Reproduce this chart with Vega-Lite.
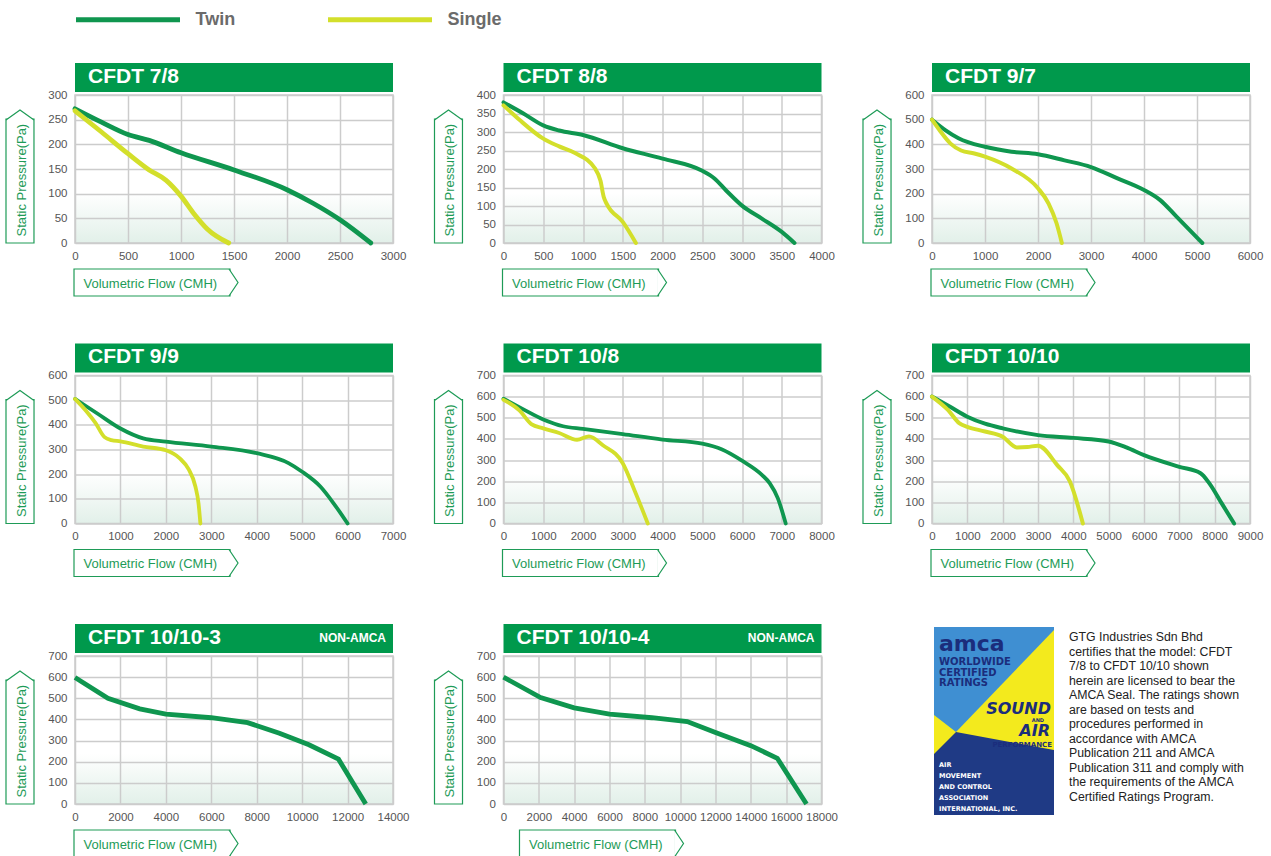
{
  "$schema": "https://vega.github.io/schema/vega-lite/v6.json",
  "background": "white",
  "padding": {"left": 2, "top": -35, "right": 5, "bottom": 5},
  "columns": 3,
  "spacing": {"row": 43.5, "column": 20.5},
  "resolve": {"scale": {"color": "shared"}},
  "datasets": {
    "p1": [
      {"series": "Twin", "flow": 0, "pressure": 272}, {"series": "Twin", "flow": 250, "pressure": 245}, {"series": "Twin", "flow": 500, "pressure": 220}, {"series": "Twin", "flow": 700, "pressure": 208}, {"series": "Twin", "flow": 1000, "pressure": 183}, {"series": "Twin", "flow": 1500, "pressure": 148}, {"series": "Twin", "flow": 2000, "pressure": 108}, {"series": "Twin", "flow": 2250, "pressure": 80}, {"series": "Twin", "flow": 2500, "pressure": 47}, {"series": "Twin", "flow": 2790, "pressure": 0},
      {"series": "Single", "flow": 0, "pressure": 268}, {"series": "Single", "flow": 250, "pressure": 225}, {"series": "Single", "flow": 500, "pressure": 181}, {"series": "Single", "flow": 700, "pressure": 148}, {"series": "Single", "flow": 860, "pressure": 127}, {"series": "Single", "flow": 1000, "pressure": 95}, {"series": "Single", "flow": 1120, "pressure": 60}, {"series": "Single", "flow": 1250, "pressure": 28}, {"series": "Single", "flow": 1450, "pressure": 0}
    ],
    "p2": [
      {"series": "Twin", "flow": 0, "pressure": 380}, {"series": "Twin", "flow": 250, "pressure": 350}, {"series": "Twin", "flow": 500, "pressure": 318}, {"series": "Twin", "flow": 700, "pressure": 304}, {"series": "Twin", "flow": 1000, "pressure": 292}, {"series": "Twin", "flow": 1500, "pressure": 256}, {"series": "Twin", "flow": 2000, "pressure": 228}, {"series": "Twin", "flow": 2500, "pressure": 195}, {"series": "Twin", "flow": 2650, "pressure": 175}, {"series": "Twin", "flow": 2800, "pressure": 142}, {"series": "Twin", "flow": 3000, "pressure": 101}, {"series": "Twin", "flow": 3250, "pressure": 66}, {"series": "Twin", "flow": 3500, "pressure": 30}, {"series": "Twin", "flow": 3660, "pressure": 0},
      {"series": "Single", "flow": 0, "pressure": 372}, {"series": "Single", "flow": 200, "pressure": 333}, {"series": "Single", "flow": 500, "pressure": 282}, {"series": "Single", "flow": 700, "pressure": 261}, {"series": "Single", "flow": 900, "pressure": 243}, {"series": "Single", "flow": 1150, "pressure": 202}, {"series": "Single", "flow": 1220, "pressure": 168}, {"series": "Single", "flow": 1260, "pressure": 125}, {"series": "Single", "flow": 1300, "pressure": 105}, {"series": "Single", "flow": 1500, "pressure": 57}, {"series": "Single", "flow": 1665, "pressure": 0}
    ],
    "p3": [
      {"series": "Twin", "flow": 0, "pressure": 500}, {"series": "Twin", "flow": 250, "pressure": 458}, {"series": "Twin", "flow": 500, "pressure": 425}, {"series": "Twin", "flow": 1000, "pressure": 390}, {"series": "Twin", "flow": 1500, "pressure": 370}, {"series": "Twin", "flow": 2000, "pressure": 360}, {"series": "Twin", "flow": 2500, "pressure": 335}, {"series": "Twin", "flow": 3000, "pressure": 308}, {"series": "Twin", "flow": 3500, "pressure": 262}, {"series": "Twin", "flow": 4000, "pressure": 215}, {"series": "Twin", "flow": 4300, "pressure": 175}, {"series": "Twin", "flow": 4600, "pressure": 110}, {"series": "Twin", "flow": 5100, "pressure": 0},
      {"series": "Single", "flow": 0, "pressure": 500}, {"series": "Single", "flow": 150, "pressure": 455}, {"series": "Single", "flow": 350, "pressure": 403}, {"series": "Single", "flow": 550, "pressure": 375}, {"series": "Single", "flow": 800, "pressure": 363}, {"series": "Single", "flow": 1000, "pressure": 350}, {"series": "Single", "flow": 1500, "pressure": 302}, {"series": "Single", "flow": 2000, "pressure": 222}, {"series": "Single", "flow": 2200, "pressure": 160}, {"series": "Single", "flow": 2350, "pressure": 80}, {"series": "Single", "flow": 2450, "pressure": 0}
    ],
    "p4": [
      {"series": "Twin", "flow": 0, "pressure": 505}, {"series": "Twin", "flow": 500, "pressure": 445}, {"series": "Twin", "flow": 1000, "pressure": 385}, {"series": "Twin", "flow": 1500, "pressure": 345}, {"series": "Twin", "flow": 2000, "pressure": 332}, {"series": "Twin", "flow": 3000, "pressure": 312}, {"series": "Twin", "flow": 4000, "pressure": 285}, {"series": "Twin", "flow": 4700, "pressure": 245}, {"series": "Twin", "flow": 5000, "pressure": 210}, {"series": "Twin", "flow": 5400, "pressure": 150}, {"series": "Twin", "flow": 5700, "pressure": 80}, {"series": "Twin", "flow": 6000, "pressure": 0},
      {"series": "Single", "flow": 0, "pressure": 505}, {"series": "Single", "flow": 250, "pressure": 455}, {"series": "Single", "flow": 450, "pressure": 408}, {"series": "Single", "flow": 650, "pressure": 350}, {"series": "Single", "flow": 800, "pressure": 338}, {"series": "Single", "flow": 1000, "pressure": 333}, {"series": "Single", "flow": 1500, "pressure": 312}, {"series": "Single", "flow": 2000, "pressure": 297}, {"series": "Single", "flow": 2300, "pressure": 265}, {"series": "Single", "flow": 2500, "pressure": 220}, {"series": "Single", "flow": 2650, "pressure": 150}, {"series": "Single", "flow": 2720, "pressure": 80}, {"series": "Single", "flow": 2760, "pressure": 0}
    ],
    "p5": [
      {"series": "Twin", "flow": 0, "pressure": 590}, {"series": "Twin", "flow": 500, "pressure": 540}, {"series": "Twin", "flow": 1000, "pressure": 492}, {"series": "Twin", "flow": 1500, "pressure": 460}, {"series": "Twin", "flow": 2000, "pressure": 448}, {"series": "Twin", "flow": 3000, "pressure": 423}, {"series": "Twin", "flow": 4000, "pressure": 397}, {"series": "Twin", "flow": 5000, "pressure": 378}, {"series": "Twin", "flow": 5500, "pressure": 350}, {"series": "Twin", "flow": 6000, "pressure": 297}, {"series": "Twin", "flow": 6500, "pressure": 230}, {"series": "Twin", "flow": 6700, "pressure": 190}, {"series": "Twin", "flow": 6900, "pressure": 120}, {"series": "Twin", "flow": 7100, "pressure": 0},
      {"series": "Single", "flow": 0, "pressure": 585}, {"series": "Single", "flow": 400, "pressure": 535}, {"series": "Single", "flow": 700, "pressure": 470}, {"series": "Single", "flow": 1000, "pressure": 450}, {"series": "Single", "flow": 1400, "pressure": 428}, {"series": "Single", "flow": 1850, "pressure": 396}, {"series": "Single", "flow": 2150, "pressure": 412}, {"series": "Single", "flow": 2500, "pressure": 370}, {"series": "Single", "flow": 3000, "pressure": 285}, {"series": "Single", "flow": 3300, "pressure": 155}, {"series": "Single", "flow": 3630, "pressure": 0}
    ],
    "p6": [
      {"series": "Twin", "flow": 0, "pressure": 600}, {"series": "Twin", "flow": 500, "pressure": 553}, {"series": "Twin", "flow": 1000, "pressure": 505}, {"series": "Twin", "flow": 1500, "pressure": 472}, {"series": "Twin", "flow": 2000, "pressure": 450}, {"series": "Twin", "flow": 3000, "pressure": 418}, {"series": "Twin", "flow": 4000, "pressure": 405}, {"series": "Twin", "flow": 5000, "pressure": 388}, {"series": "Twin", "flow": 5500, "pressure": 360}, {"series": "Twin", "flow": 6000, "pressure": 323}, {"series": "Twin", "flow": 7000, "pressure": 268}, {"series": "Twin", "flow": 7600, "pressure": 238}, {"series": "Twin", "flow": 7850, "pressure": 190}, {"series": "Twin", "flow": 8200, "pressure": 95}, {"series": "Twin", "flow": 8550, "pressure": 0},
      {"series": "Single", "flow": 0, "pressure": 600}, {"series": "Single", "flow": 450, "pressure": 537}, {"series": "Single", "flow": 780, "pressure": 473}, {"series": "Single", "flow": 1000, "pressure": 457}, {"series": "Single", "flow": 1500, "pressure": 435}, {"series": "Single", "flow": 2000, "pressure": 410}, {"series": "Single", "flow": 2400, "pressure": 360}, {"series": "Single", "flow": 2700, "pressure": 362}, {"series": "Single", "flow": 3000, "pressure": 368}, {"series": "Single", "flow": 3550, "pressure": 275}, {"series": "Single", "flow": 3900, "pressure": 200}, {"series": "Single", "flow": 4270, "pressure": 0}
    ],
    "p7": [
      {"series": "Twin", "flow": 0, "pressure": 598}, {"series": "Twin", "flow": 1450, "pressure": 500}, {"series": "Twin", "flow": 2850, "pressure": 450}, {"series": "Twin", "flow": 4000, "pressure": 425}, {"series": "Twin", "flow": 6000, "pressure": 408}, {"series": "Twin", "flow": 7600, "pressure": 385}, {"series": "Twin", "flow": 9000, "pressure": 335}, {"series": "Twin", "flow": 10300, "pressure": 280}, {"series": "Twin", "flow": 11600, "pressure": 212}, {"series": "Twin", "flow": 12800, "pressure": 0}
    ],
    "p8": [
      {"series": "Twin", "flow": 0, "pressure": 600}, {"series": "Twin", "flow": 2100, "pressure": 503}, {"series": "Twin", "flow": 4000, "pressure": 455}, {"series": "Twin", "flow": 6000, "pressure": 425}, {"series": "Twin", "flow": 8400, "pressure": 408}, {"series": "Twin", "flow": 10400, "pressure": 390}, {"series": "Twin", "flow": 12000, "pressure": 338}, {"series": "Twin", "flow": 14000, "pressure": 276}, {"series": "Twin", "flow": 15500, "pressure": 216}, {"series": "Twin", "flow": 17150, "pressure": 0}
    ]
  },
  "concat": [
    {"vconcat": [
      {"width": 318, "height": 29, "view": {"fill": "#00994C", "stroke": null},
       "data": {"values": [{"name": "CFDT 7/8"}]},
       "mark": {"type": "text", "align": "left", "baseline": "middle", "dx": 13, "dy": -1, "fontSize": 21, "fontWeight": "bold", "color": "white", "font": "Liberation Sans"},
       "encoding": {"x": {"datum": 0, "type": "quantitative", "scale": {"domain": [0, 1]}, "axis": null}, "y": {"datum": 0.5, "type": "quantitative", "scale": {"domain": [0, 1]}, "axis": null}, "text": {"field": "name"}}},
      {"width": 318, "height": 148,
       "view": {"stroke": "#cccccc", "strokeWidth": 1.5, "fill": {"gradient": "linear", "x1": 0, "y1": 1, "x2": 0, "y2": 0, "stops": [{"offset": 0, "color": "#e2f0e9"}, {"offset": 0.34, "color": "#ffffff"}, {"offset": 1, "color": "#ffffff"}]}},
       "data": {"name": "p1"},
       "layer": [
         {"mark": {"type": "line", "interpolate": "monotone", "strokeWidth": 4.8, "strokeCap": "round"},
          "encoding": {
            "x": {"field": "flow", "type": "quantitative", "scale": {"domain": [0, 3000]}, "axis": {"title": "Volumetric Flow (CMH)", "values": [0, 500, 1000, 1500, 2000, 2500, 3000], "format": "d"}},
            "y": {"field": "pressure", "type": "quantitative", "scale": {"domain": [0, 300]}, "axis": {"title": "Static Pressure(Pa)", "values": [0, 50, 100, 150, 200, 250, 300], "format": "d"}},
            "color": {"field": "series", "type": "nominal", "scale": {"domain": ["Twin", "Single"], "range": ["#0f964f", "#d3df2b"]}, "legend": {"title": null}}}},
         {"data": {"values": [{}]}, "mark": {"type": "rect", "filled": false, "color": "#1e9b57", "strokeWidth": 1.2},
          "encoding": {"x": {"datum": -9.4, "type": "quantitative", "scale": {"domain": [0, 3000]}, "axis": {"title": "Volumetric Flow (CMH)", "values": [0, 500, 1000, 1500, 2000, 2500, 3000], "format": "d"}}, "x2": {"datum": 1462}, "y": {"datum": -52.7, "type": "quantitative", "scale": {"domain": [0, 300]}, "axis": {"title": "Static Pressure(Pa)", "values": [0, 50, 100, 150, 200, 250, 300], "format": "d"}}, "y2": {"datum": -107.4}}},
         {"data": {"values": [{}]}, "mark": {"type": "point", "shape": "M0,-1L0.667,0L0,1", "size": 729, "filled": true, "fill": "white", "stroke": "#1e9b57", "strokeWidth": 1.2, "opacity": 1},
          "encoding": {"x": {"datum": 1452.8, "type": "quantitative", "scale": {"domain": [0, 3000]}, "axis": {"title": "Volumetric Flow (CMH)", "values": [0, 500, 1000, 1500, 2000, 2500, 3000], "format": "d"}}, "y": {"datum": -80.1, "type": "quantitative", "scale": {"domain": [0, 300]}, "axis": {"title": "Static Pressure(Pa)", "values": [0, 50, 100, 150, 200, 250, 300], "format": "d"}}}},
         {"data": {"values": [{}]}, "mark": {"type": "rect", "filled": false, "color": "#1e9b57", "strokeWidth": 1.2},
          "encoding": {"x": {"datum": -651, "type": "quantitative", "scale": {"domain": [0, 3000]}, "axis": {"title": "Volumetric Flow (CMH)", "values": [0, 500, 1000, 1500, 2000, 2500, 3000], "format": "d"}}, "x2": {"datum": -387}, "y": {"datum": 0, "type": "quantitative", "scale": {"domain": [0, 300]}, "axis": {"title": "Static Pressure(Pa)", "values": [0, 50, 100, 150, 200, 250, 300], "format": "d"}}, "y2": {"datum": 251.3}}},
         {"data": {"values": [{}]}, "mark": {"type": "point", "shape": "M-1,0L0,-0.714L1,0", "size": 784, "filled": true, "fill": "white", "stroke": "#1e9b57", "strokeWidth": 1.2, "opacity": 1},
          "encoding": {"x": {"datum": -519, "type": "quantitative", "scale": {"domain": [0, 3000]}, "axis": {"title": "Volumetric Flow (CMH)", "values": [0, 500, 1000, 1500, 2000, 2500, 3000], "format": "d"}}, "y": {"datum": 249.3, "type": "quantitative", "scale": {"domain": [0, 300]}, "axis": {"title": "Static Pressure(Pa)", "values": [0, 50, 100, 150, 200, 250, 300], "format": "d"}}}}
       ]}
    ], "spacing": 3, "bounds": "flush"},
    {"vconcat": [
      {"width": 318, "height": 29, "view": {"fill": "#00994C", "stroke": null},
       "data": {"values": [{"name": "CFDT 8/8"}]},
       "mark": {"type": "text", "align": "left", "baseline": "middle", "dx": 13, "dy": -1, "fontSize": 21, "fontWeight": "bold", "color": "white", "font": "Liberation Sans"},
       "encoding": {"x": {"datum": 0, "type": "quantitative", "scale": {"domain": [0, 1]}, "axis": null}, "y": {"datum": 0.5, "type": "quantitative", "scale": {"domain": [0, 1]}, "axis": null}, "text": {"field": "name"}}},
      {"width": 318, "height": 148,
       "view": {"stroke": "#cccccc", "strokeWidth": 1.5, "fill": {"gradient": "linear", "x1": 0, "y1": 1, "x2": 0, "y2": 0, "stops": [{"offset": 0, "color": "#e2f0e9"}, {"offset": 0.34, "color": "#ffffff"}, {"offset": 1, "color": "#ffffff"}]}},
       "data": {"name": "p2"},
       "layer": [
         {"mark": {"type": "line", "interpolate": "monotone", "strokeWidth": 4, "strokeCap": "round"},
          "encoding": {
            "x": {"field": "flow", "type": "quantitative", "scale": {"domain": [0, 4000]}, "axis": {"title": "Volumetric Flow (CMH)", "values": [0, 500, 1000, 1500, 2000, 2500, 3000, 3500, 4000], "format": "d"}},
            "y": {"field": "pressure", "type": "quantitative", "scale": {"domain": [0, 400]}, "axis": {"title": "Static Pressure(Pa)", "values": [0, 50, 100, 150, 200, 250, 300, 350, 400], "format": "d"}},
            "color": {"field": "series", "type": "nominal", "scale": {"domain": ["Twin", "Single"], "range": ["#0f964f", "#d3df2b"]}, "legend": {"title": null}}}},
         {"data": {"values": [{}]}, "mark": {"type": "rect", "filled": false, "color": "#1e9b57", "strokeWidth": 1.2},
          "encoding": {"x": {"datum": -12.6, "type": "quantitative", "scale": {"domain": [0, 4000]}, "axis": {"title": "Volumetric Flow (CMH)", "values": [0, 500, 1000, 1500, 2000, 2500, 3000, 3500, 4000], "format": "d"}}, "x2": {"datum": 1950}, "y": {"datum": -70.3, "type": "quantitative", "scale": {"domain": [0, 400]}, "axis": {"title": "Static Pressure(Pa)", "values": [0, 50, 100, 150, 200, 250, 300, 350, 400], "format": "d"}}, "y2": {"datum": -143.2}}},
         {"data": {"values": [{}]}, "mark": {"type": "point", "shape": "M0,-1L0.667,0L0,1", "size": 729, "filled": true, "fill": "white", "stroke": "#1e9b57", "strokeWidth": 1.2, "opacity": 1},
          "encoding": {"x": {"datum": 1937, "type": "quantitative", "scale": {"domain": [0, 4000]}, "axis": {"title": "Volumetric Flow (CMH)", "values": [0, 500, 1000, 1500, 2000, 2500, 3000, 3500, 4000], "format": "d"}}, "y": {"datum": -106.8, "type": "quantitative", "scale": {"domain": [0, 400]}, "axis": {"title": "Static Pressure(Pa)", "values": [0, 50, 100, 150, 200, 250, 300, 350, 400], "format": "d"}}}},
         {"data": {"values": [{}]}, "mark": {"type": "rect", "filled": false, "color": "#1e9b57", "strokeWidth": 1.2},
          "encoding": {"x": {"datum": -868, "type": "quantitative", "scale": {"domain": [0, 4000]}, "axis": {"title": "Volumetric Flow (CMH)", "values": [0, 500, 1000, 1500, 2000, 2500, 3000, 3500, 4000], "format": "d"}}, "x2": {"datum": -516}, "y": {"datum": 0, "type": "quantitative", "scale": {"domain": [0, 400]}, "axis": {"title": "Static Pressure(Pa)", "values": [0, 50, 100, 150, 200, 250, 300, 350, 400], "format": "d"}}, "y2": {"datum": 335.1}}},
         {"data": {"values": [{}]}, "mark": {"type": "point", "shape": "M-1,0L0,-0.714L1,0", "size": 784, "filled": true, "fill": "white", "stroke": "#1e9b57", "strokeWidth": 1.2, "opacity": 1},
          "encoding": {"x": {"datum": -692, "type": "quantitative", "scale": {"domain": [0, 4000]}, "axis": {"title": "Volumetric Flow (CMH)", "values": [0, 500, 1000, 1500, 2000, 2500, 3000, 3500, 4000], "format": "d"}}, "y": {"datum": 332.4, "type": "quantitative", "scale": {"domain": [0, 400]}, "axis": {"title": "Static Pressure(Pa)", "values": [0, 50, 100, 150, 200, 250, 300, 350, 400], "format": "d"}}}}
       ]}
    ], "spacing": 3, "bounds": "flush"},
    {"vconcat": [
      {"width": 318, "height": 29, "view": {"fill": "#00994C", "stroke": null},
       "data": {"values": [{"name": "CFDT 9/7"}]},
       "mark": {"type": "text", "align": "left", "baseline": "middle", "dx": 13, "dy": -1, "fontSize": 21, "fontWeight": "bold", "color": "white", "font": "Liberation Sans"},
       "encoding": {"x": {"datum": 0, "type": "quantitative", "scale": {"domain": [0, 1]}, "axis": null}, "y": {"datum": 0.5, "type": "quantitative", "scale": {"domain": [0, 1]}, "axis": null}, "text": {"field": "name"}}},
      {"width": 318, "height": 148,
       "view": {"stroke": "#cccccc", "strokeWidth": 1.5, "fill": {"gradient": "linear", "x1": 0, "y1": 1, "x2": 0, "y2": 0, "stops": [{"offset": 0, "color": "#e2f0e9"}, {"offset": 0.34, "color": "#ffffff"}, {"offset": 1, "color": "#ffffff"}]}},
       "data": {"name": "p3"},
       "layer": [
         {"mark": {"type": "line", "interpolate": "monotone", "strokeWidth": 4, "strokeCap": "round"},
          "encoding": {
            "x": {"field": "flow", "type": "quantitative", "scale": {"domain": [0, 6000]}, "axis": {"title": "Volumetric Flow (CMH)", "values": [0, 1000, 2000, 3000, 4000, 5000, 6000], "format": "d"}},
            "y": {"field": "pressure", "type": "quantitative", "scale": {"domain": [0, 600]}, "axis": {"title": "Static Pressure(Pa)", "values": [0, 100, 200, 300, 400, 500, 600], "format": "d"}},
            "color": {"field": "series", "type": "nominal", "scale": {"domain": ["Twin", "Single"], "range": ["#0f964f", "#d3df2b"]}, "legend": {"title": null}}}},
         {"data": {"values": [{}]}, "mark": {"type": "rect", "filled": false, "color": "#1e9b57", "strokeWidth": 1.2},
          "encoding": {"x": {"datum": -18.9, "type": "quantitative", "scale": {"domain": [0, 6000]}, "axis": {"title": "Volumetric Flow (CMH)", "values": [0, 1000, 2000, 3000, 4000, 5000, 6000], "format": "d"}}, "x2": {"datum": 2924}, "y": {"datum": -105.4, "type": "quantitative", "scale": {"domain": [0, 600]}, "axis": {"title": "Static Pressure(Pa)", "values": [0, 100, 200, 300, 400, 500, 600], "format": "d"}}, "y2": {"datum": -214.9}}},
         {"data": {"values": [{}]}, "mark": {"type": "point", "shape": "M0,-1L0.667,0L0,1", "size": 729, "filled": true, "fill": "white", "stroke": "#1e9b57", "strokeWidth": 1.2, "opacity": 1},
          "encoding": {"x": {"datum": 2905.7, "type": "quantitative", "scale": {"domain": [0, 6000]}, "axis": {"title": "Volumetric Flow (CMH)", "values": [0, 1000, 2000, 3000, 4000, 5000, 6000], "format": "d"}}, "y": {"datum": -160.1, "type": "quantitative", "scale": {"domain": [0, 600]}, "axis": {"title": "Static Pressure(Pa)", "values": [0, 100, 200, 300, 400, 500, 600], "format": "d"}}}},
         {"data": {"values": [{}]}, "mark": {"type": "rect", "filled": false, "color": "#1e9b57", "strokeWidth": 1.2},
          "encoding": {"x": {"datum": -1302, "type": "quantitative", "scale": {"domain": [0, 6000]}, "axis": {"title": "Volumetric Flow (CMH)", "values": [0, 1000, 2000, 3000, 4000, 5000, 6000], "format": "d"}}, "x2": {"datum": -773}, "y": {"datum": 0, "type": "quantitative", "scale": {"domain": [0, 600]}, "axis": {"title": "Static Pressure(Pa)", "values": [0, 100, 200, 300, 400, 500, 600], "format": "d"}}, "y2": {"datum": 502.7}}},
         {"data": {"values": [{}]}, "mark": {"type": "point", "shape": "M-1,0L0,-0.714L1,0", "size": 784, "filled": true, "fill": "white", "stroke": "#1e9b57", "strokeWidth": 1.2, "opacity": 1},
          "encoding": {"x": {"datum": -1038, "type": "quantitative", "scale": {"domain": [0, 6000]}, "axis": {"title": "Volumetric Flow (CMH)", "values": [0, 1000, 2000, 3000, 4000, 5000, 6000], "format": "d"}}, "y": {"datum": 498.6, "type": "quantitative", "scale": {"domain": [0, 600]}, "axis": {"title": "Static Pressure(Pa)", "values": [0, 100, 200, 300, 400, 500, 600], "format": "d"}}}}
       ]}
    ], "spacing": 3, "bounds": "flush"},
    {"vconcat": [
      {"width": 318, "height": 29, "view": {"fill": "#00994C", "stroke": null},
       "data": {"values": [{"name": "CFDT 9/9"}]},
       "mark": {"type": "text", "align": "left", "baseline": "middle", "dx": 13, "dy": -1, "fontSize": 21, "fontWeight": "bold", "color": "white", "font": "Liberation Sans"},
       "encoding": {"x": {"datum": 0, "type": "quantitative", "scale": {"domain": [0, 1]}, "axis": null}, "y": {"datum": 0.5, "type": "quantitative", "scale": {"domain": [0, 1]}, "axis": null}, "text": {"field": "name"}}},
      {"width": 318, "height": 148,
       "view": {"stroke": "#cccccc", "strokeWidth": 1.5, "fill": {"gradient": "linear", "x1": 0, "y1": 1, "x2": 0, "y2": 0, "stops": [{"offset": 0, "color": "#e2f0e9"}, {"offset": 0.34, "color": "#ffffff"}, {"offset": 1, "color": "#ffffff"}]}},
       "data": {"name": "p4"},
       "layer": [
         {"mark": {"type": "line", "interpolate": "monotone", "strokeWidth": 3.8, "strokeCap": "round"},
          "encoding": {
            "x": {"field": "flow", "type": "quantitative", "scale": {"domain": [0, 7000]}, "axis": {"title": "Volumetric Flow (CMH)", "values": [0, 1000, 2000, 3000, 4000, 5000, 6000, 7000], "format": "d"}},
            "y": {"field": "pressure", "type": "quantitative", "scale": {"domain": [0, 600]}, "axis": {"title": "Static Pressure(Pa)", "values": [0, 100, 200, 300, 400, 500, 600], "format": "d"}},
            "color": {"field": "series", "type": "nominal", "scale": {"domain": ["Twin", "Single"], "range": ["#0f964f", "#d3df2b"]}, "legend": {"title": null}}}},
         {"data": {"values": [{}]}, "mark": {"type": "rect", "filled": false, "color": "#1e9b57", "strokeWidth": 1.2},
          "encoding": {"x": {"datum": -22, "type": "quantitative", "scale": {"domain": [0, 7000]}, "axis": {"title": "Volumetric Flow (CMH)", "values": [0, 1000, 2000, 3000, 4000, 5000, 6000, 7000], "format": "d"}}, "x2": {"datum": 3412}, "y": {"datum": -105.4, "type": "quantitative", "scale": {"domain": [0, 600]}, "axis": {"title": "Static Pressure(Pa)", "values": [0, 100, 200, 300, 400, 500, 600], "format": "d"}}, "y2": {"datum": -214.9}}},
         {"data": {"values": [{}]}, "mark": {"type": "point", "shape": "M0,-1L0.667,0L0,1", "size": 729, "filled": true, "fill": "white", "stroke": "#1e9b57", "strokeWidth": 1.2, "opacity": 1},
          "encoding": {"x": {"datum": 3390, "type": "quantitative", "scale": {"domain": [0, 7000]}, "axis": {"title": "Volumetric Flow (CMH)", "values": [0, 1000, 2000, 3000, 4000, 5000, 6000, 7000], "format": "d"}}, "y": {"datum": -160.1, "type": "quantitative", "scale": {"domain": [0, 600]}, "axis": {"title": "Static Pressure(Pa)", "values": [0, 100, 200, 300, 400, 500, 600], "format": "d"}}}},
         {"data": {"values": [{}]}, "mark": {"type": "rect", "filled": false, "color": "#1e9b57", "strokeWidth": 1.2},
          "encoding": {"x": {"datum": -1519, "type": "quantitative", "scale": {"domain": [0, 7000]}, "axis": {"title": "Volumetric Flow (CMH)", "values": [0, 1000, 2000, 3000, 4000, 5000, 6000, 7000], "format": "d"}}, "x2": {"datum": -902}, "y": {"datum": 0, "type": "quantitative", "scale": {"domain": [0, 600]}, "axis": {"title": "Static Pressure(Pa)", "values": [0, 100, 200, 300, 400, 500, 600], "format": "d"}}, "y2": {"datum": 502.7}}},
         {"data": {"values": [{}]}, "mark": {"type": "point", "shape": "M-1,0L0,-0.714L1,0", "size": 784, "filled": true, "fill": "white", "stroke": "#1e9b57", "strokeWidth": 1.2, "opacity": 1},
          "encoding": {"x": {"datum": -1211, "type": "quantitative", "scale": {"domain": [0, 7000]}, "axis": {"title": "Volumetric Flow (CMH)", "values": [0, 1000, 2000, 3000, 4000, 5000, 6000, 7000], "format": "d"}}, "y": {"datum": 498.6, "type": "quantitative", "scale": {"domain": [0, 600]}, "axis": {"title": "Static Pressure(Pa)", "values": [0, 100, 200, 300, 400, 500, 600], "format": "d"}}}}
       ]}
    ], "spacing": 3, "bounds": "flush"},
    {"vconcat": [
      {"width": 318, "height": 29, "view": {"fill": "#00994C", "stroke": null},
       "data": {"values": [{"name": "CFDT 10/8"}]},
       "mark": {"type": "text", "align": "left", "baseline": "middle", "dx": 13, "dy": -1, "fontSize": 21, "fontWeight": "bold", "color": "white", "font": "Liberation Sans"},
       "encoding": {"x": {"datum": 0, "type": "quantitative", "scale": {"domain": [0, 1]}, "axis": null}, "y": {"datum": 0.5, "type": "quantitative", "scale": {"domain": [0, 1]}, "axis": null}, "text": {"field": "name"}}},
      {"width": 318, "height": 148,
       "view": {"stroke": "#cccccc", "strokeWidth": 1.5, "fill": {"gradient": "linear", "x1": 0, "y1": 1, "x2": 0, "y2": 0, "stops": [{"offset": 0, "color": "#e2f0e9"}, {"offset": 0.34, "color": "#ffffff"}, {"offset": 1, "color": "#ffffff"}]}},
       "data": {"name": "p5"},
       "layer": [
         {"mark": {"type": "line", "interpolate": "monotone", "strokeWidth": 3.8, "strokeCap": "round"},
          "encoding": {
            "x": {"field": "flow", "type": "quantitative", "scale": {"domain": [0, 8000]}, "axis": {"title": "Volumetric Flow (CMH)", "values": [0, 1000, 2000, 3000, 4000, 5000, 6000, 7000, 8000], "format": "d"}},
            "y": {"field": "pressure", "type": "quantitative", "scale": {"domain": [0, 700]}, "axis": {"title": "Static Pressure(Pa)", "values": [0, 100, 200, 300, 400, 500, 600, 700], "format": "d"}},
            "color": {"field": "series", "type": "nominal", "scale": {"domain": ["Twin", "Single"], "range": ["#0f964f", "#d3df2b"]}, "legend": {"title": null}}}},
         {"data": {"values": [{}]}, "mark": {"type": "rect", "filled": false, "color": "#1e9b57", "strokeWidth": 1.2},
          "encoding": {"x": {"datum": -25.2, "type": "quantitative", "scale": {"domain": [0, 8000]}, "axis": {"title": "Volumetric Flow (CMH)", "values": [0, 1000, 2000, 3000, 4000, 5000, 6000, 7000, 8000], "format": "d"}}, "x2": {"datum": 3899}, "y": {"datum": -123, "type": "quantitative", "scale": {"domain": [0, 700]}, "axis": {"title": "Static Pressure(Pa)", "values": [0, 100, 200, 300, 400, 500, 600, 700], "format": "d"}}, "y2": {"datum": -250.7}}},
         {"data": {"values": [{}]}, "mark": {"type": "point", "shape": "M0,-1L0.667,0L0,1", "size": 729, "filled": true, "fill": "white", "stroke": "#1e9b57", "strokeWidth": 1.2, "opacity": 1},
          "encoding": {"x": {"datum": 3874, "type": "quantitative", "scale": {"domain": [0, 8000]}, "axis": {"title": "Volumetric Flow (CMH)", "values": [0, 1000, 2000, 3000, 4000, 5000, 6000, 7000, 8000], "format": "d"}}, "y": {"datum": -186.8, "type": "quantitative", "scale": {"domain": [0, 700]}, "axis": {"title": "Static Pressure(Pa)", "values": [0, 100, 200, 300, 400, 500, 600, 700], "format": "d"}}}},
         {"data": {"values": [{}]}, "mark": {"type": "rect", "filled": false, "color": "#1e9b57", "strokeWidth": 1.2},
          "encoding": {"x": {"datum": -1736, "type": "quantitative", "scale": {"domain": [0, 8000]}, "axis": {"title": "Volumetric Flow (CMH)", "values": [0, 1000, 2000, 3000, 4000, 5000, 6000, 7000, 8000], "format": "d"}}, "x2": {"datum": -1031}, "y": {"datum": 0, "type": "quantitative", "scale": {"domain": [0, 700]}, "axis": {"title": "Static Pressure(Pa)", "values": [0, 100, 200, 300, 400, 500, 600, 700], "format": "d"}}, "y2": {"datum": 586.5}}},
         {"data": {"values": [{}]}, "mark": {"type": "point", "shape": "M-1,0L0,-0.714L1,0", "size": 784, "filled": true, "fill": "white", "stroke": "#1e9b57", "strokeWidth": 1.2, "opacity": 1},
          "encoding": {"x": {"datum": -1384, "type": "quantitative", "scale": {"domain": [0, 8000]}, "axis": {"title": "Volumetric Flow (CMH)", "values": [0, 1000, 2000, 3000, 4000, 5000, 6000, 7000, 8000], "format": "d"}}, "y": {"datum": 581.8, "type": "quantitative", "scale": {"domain": [0, 700]}, "axis": {"title": "Static Pressure(Pa)", "values": [0, 100, 200, 300, 400, 500, 600, 700], "format": "d"}}}}
       ]}
    ], "spacing": 3, "bounds": "flush"},
    {"vconcat": [
      {"width": 318, "height": 29, "view": {"fill": "#00994C", "stroke": null},
       "data": {"values": [{"name": "CFDT 10/10"}]},
       "mark": {"type": "text", "align": "left", "baseline": "middle", "dx": 13, "dy": -1, "fontSize": 21, "fontWeight": "bold", "color": "white", "font": "Liberation Sans"},
       "encoding": {"x": {"datum": 0, "type": "quantitative", "scale": {"domain": [0, 1]}, "axis": null}, "y": {"datum": 0.5, "type": "quantitative", "scale": {"domain": [0, 1]}, "axis": null}, "text": {"field": "name"}}},
      {"width": 318, "height": 148,
       "view": {"stroke": "#cccccc", "strokeWidth": 1.5, "fill": {"gradient": "linear", "x1": 0, "y1": 1, "x2": 0, "y2": 0, "stops": [{"offset": 0, "color": "#e2f0e9"}, {"offset": 0.34, "color": "#ffffff"}, {"offset": 1, "color": "#ffffff"}]}},
       "data": {"name": "p6"},
       "layer": [
         {"mark": {"type": "line", "interpolate": "monotone", "strokeWidth": 4, "strokeCap": "round"},
          "encoding": {
            "x": {"field": "flow", "type": "quantitative", "scale": {"domain": [0, 9000]}, "axis": {"title": "Volumetric Flow (CMH)", "values": [0, 1000, 2000, 3000, 4000, 5000, 6000, 7000, 8000, 9000], "format": "d"}},
            "y": {"field": "pressure", "type": "quantitative", "scale": {"domain": [0, 700]}, "axis": {"title": "Static Pressure(Pa)", "values": [0, 100, 200, 300, 400, 500, 600, 700], "format": "d"}},
            "color": {"field": "series", "type": "nominal", "scale": {"domain": ["Twin", "Single"], "range": ["#0f964f", "#d3df2b"]}, "legend": {"title": null}}}},
         {"data": {"values": [{}]}, "mark": {"type": "rect", "filled": false, "color": "#1e9b57", "strokeWidth": 1.2},
          "encoding": {"x": {"datum": -28.3, "type": "quantitative", "scale": {"domain": [0, 9000]}, "axis": {"title": "Volumetric Flow (CMH)", "values": [0, 1000, 2000, 3000, 4000, 5000, 6000, 7000, 8000, 9000], "format": "d"}}, "x2": {"datum": 4387}, "y": {"datum": -123, "type": "quantitative", "scale": {"domain": [0, 700]}, "axis": {"title": "Static Pressure(Pa)", "values": [0, 100, 200, 300, 400, 500, 600, 700], "format": "d"}}, "y2": {"datum": -250.7}}},
         {"data": {"values": [{}]}, "mark": {"type": "point", "shape": "M0,-1L0.667,0L0,1", "size": 729, "filled": true, "fill": "white", "stroke": "#1e9b57", "strokeWidth": 1.2, "opacity": 1},
          "encoding": {"x": {"datum": 4358.5, "type": "quantitative", "scale": {"domain": [0, 9000]}, "axis": {"title": "Volumetric Flow (CMH)", "values": [0, 1000, 2000, 3000, 4000, 5000, 6000, 7000, 8000, 9000], "format": "d"}}, "y": {"datum": -186.8, "type": "quantitative", "scale": {"domain": [0, 700]}, "axis": {"title": "Static Pressure(Pa)", "values": [0, 100, 200, 300, 400, 500, 600, 700], "format": "d"}}}},
         {"data": {"values": [{}]}, "mark": {"type": "rect", "filled": false, "color": "#1e9b57", "strokeWidth": 1.2},
          "encoding": {"x": {"datum": -1953, "type": "quantitative", "scale": {"domain": [0, 9000]}, "axis": {"title": "Volumetric Flow (CMH)", "values": [0, 1000, 2000, 3000, 4000, 5000, 6000, 7000, 8000, 9000], "format": "d"}}, "x2": {"datum": -1160}, "y": {"datum": 0, "type": "quantitative", "scale": {"domain": [0, 700]}, "axis": {"title": "Static Pressure(Pa)", "values": [0, 100, 200, 300, 400, 500, 600, 700], "format": "d"}}, "y2": {"datum": 586.5}}},
         {"data": {"values": [{}]}, "mark": {"type": "point", "shape": "M-1,0L0,-0.714L1,0", "size": 784, "filled": true, "fill": "white", "stroke": "#1e9b57", "strokeWidth": 1.2, "opacity": 1},
          "encoding": {"x": {"datum": -1557, "type": "quantitative", "scale": {"domain": [0, 9000]}, "axis": {"title": "Volumetric Flow (CMH)", "values": [0, 1000, 2000, 3000, 4000, 5000, 6000, 7000, 8000, 9000], "format": "d"}}, "y": {"datum": 581.8, "type": "quantitative", "scale": {"domain": [0, 700]}, "axis": {"title": "Static Pressure(Pa)", "values": [0, 100, 200, 300, 400, 500, 600, 700], "format": "d"}}}}
       ]}
    ], "spacing": 3, "bounds": "flush"},
    {"vconcat": [
      {"width": 318, "height": 29, "view": {"fill": "#00994C", "stroke": null},
       "data": {"values": [{"name": "CFDT 10/10-3", "tag": "NON-AMCA"}]},
       "layer": [
         {"mark": {"type": "text", "align": "left", "baseline": "middle", "dx": 13, "dy": -1, "fontSize": 21, "fontWeight": "bold", "color": "white", "font": "Liberation Sans"},
          "encoding": {"x": {"datum": 0, "type": "quantitative", "scale": {"domain": [0, 1]}, "axis": null}, "y": {"datum": 0.5, "type": "quantitative", "scale": {"domain": [0, 1]}, "axis": null}, "text": {"field": "name"}}},
         {"mark": {"type": "text", "align": "right", "baseline": "middle", "dx": -7, "dy": -1, "fontSize": 12, "fontWeight": "bold", "color": "white", "font": "Liberation Sans"},
          "encoding": {"x": {"datum": 1, "type": "quantitative", "scale": {"domain": [0, 1]}, "axis": null}, "y": {"datum": 0.5, "type": "quantitative", "scale": {"domain": [0, 1]}, "axis": null}, "text": {"field": "tag"}}}
       ]},
      {"width": 318, "height": 148,
       "view": {"stroke": "#cccccc", "strokeWidth": 1.5, "fill": {"gradient": "linear", "x1": 0, "y1": 1, "x2": 0, "y2": 0, "stops": [{"offset": 0, "color": "#e2f0e9"}, {"offset": 0.34, "color": "#ffffff"}, {"offset": 1, "color": "#ffffff"}]}},
       "data": {"name": "p7"},
       "layer": [
         {"mark": {"type": "line", "interpolate": "linear", "strokeWidth": 4.8, "strokeCap": "butt"},
          "encoding": {
            "x": {"field": "flow", "type": "quantitative", "scale": {"domain": [0, 14000]}, "axis": {"title": "Volumetric Flow (CMH)", "values": [0, 2000, 4000, 6000, 8000, 10000, 12000, 14000], "format": "d"}},
            "y": {"field": "pressure", "type": "quantitative", "scale": {"domain": [0, 700]}, "axis": {"title": "Static Pressure(Pa)", "values": [0, 100, 200, 300, 400, 500, 600, 700], "format": "d"}},
            "color": {"field": "series", "type": "nominal", "scale": {"domain": ["Twin", "Single"], "range": ["#0f964f", "#d3df2b"]}, "legend": {"title": null}}}},
         {"data": {"values": [{}]}, "mark": {"type": "rect", "filled": false, "color": "#1e9b57", "strokeWidth": 1.2},
          "encoding": {"x": {"datum": -44, "type": "quantitative", "scale": {"domain": [0, 14000]}, "axis": {"title": "Volumetric Flow (CMH)", "values": [0, 2000, 4000, 6000, 8000, 10000, 12000, 14000], "format": "d"}}, "x2": {"datum": 6824}, "y": {"datum": -123, "type": "quantitative", "scale": {"domain": [0, 700]}, "axis": {"title": "Static Pressure(Pa)", "values": [0, 100, 200, 300, 400, 500, 600, 700], "format": "d"}}, "y2": {"datum": -250.7}}},
         {"data": {"values": [{}]}, "mark": {"type": "point", "shape": "M0,-1L0.667,0L0,1", "size": 729, "filled": true, "fill": "white", "stroke": "#1e9b57", "strokeWidth": 1.2, "opacity": 1},
          "encoding": {"x": {"datum": 6780, "type": "quantitative", "scale": {"domain": [0, 14000]}, "axis": {"title": "Volumetric Flow (CMH)", "values": [0, 2000, 4000, 6000, 8000, 10000, 12000, 14000], "format": "d"}}, "y": {"datum": -186.8, "type": "quantitative", "scale": {"domain": [0, 700]}, "axis": {"title": "Static Pressure(Pa)", "values": [0, 100, 200, 300, 400, 500, 600, 700], "format": "d"}}}},
         {"data": {"values": [{}]}, "mark": {"type": "rect", "filled": false, "color": "#1e9b57", "strokeWidth": 1.2},
          "encoding": {"x": {"datum": -3038, "type": "quantitative", "scale": {"domain": [0, 14000]}, "axis": {"title": "Volumetric Flow (CMH)", "values": [0, 2000, 4000, 6000, 8000, 10000, 12000, 14000], "format": "d"}}, "x2": {"datum": -1805}, "y": {"datum": 0, "type": "quantitative", "scale": {"domain": [0, 700]}, "axis": {"title": "Static Pressure(Pa)", "values": [0, 100, 200, 300, 400, 500, 600, 700], "format": "d"}}, "y2": {"datum": 586.5}}},
         {"data": {"values": [{}]}, "mark": {"type": "point", "shape": "M-1,0L0,-0.714L1,0", "size": 784, "filled": true, "fill": "white", "stroke": "#1e9b57", "strokeWidth": 1.2, "opacity": 1},
          "encoding": {"x": {"datum": -2422, "type": "quantitative", "scale": {"domain": [0, 14000]}, "axis": {"title": "Volumetric Flow (CMH)", "values": [0, 2000, 4000, 6000, 8000, 10000, 12000, 14000], "format": "d"}}, "y": {"datum": 581.8, "type": "quantitative", "scale": {"domain": [0, 700]}, "axis": {"title": "Static Pressure(Pa)", "values": [0, 100, 200, 300, 400, 500, 600, 700], "format": "d"}}}}
       ]}
    ], "spacing": 3, "bounds": "flush"},
    {"vconcat": [
      {"width": 318, "height": 29, "view": {"fill": "#00994C", "stroke": null},
       "data": {"values": [{"name": "CFDT 10/10-4", "tag": "NON-AMCA"}]},
       "layer": [
         {"mark": {"type": "text", "align": "left", "baseline": "middle", "dx": 13, "dy": -1, "fontSize": 21, "fontWeight": "bold", "color": "white", "font": "Liberation Sans"},
          "encoding": {"x": {"datum": 0, "type": "quantitative", "scale": {"domain": [0, 1]}, "axis": null}, "y": {"datum": 0.5, "type": "quantitative", "scale": {"domain": [0, 1]}, "axis": null}, "text": {"field": "name"}}},
         {"mark": {"type": "text", "align": "right", "baseline": "middle", "dx": -7, "dy": -1, "fontSize": 12, "fontWeight": "bold", "color": "white", "font": "Liberation Sans"},
          "encoding": {"x": {"datum": 1, "type": "quantitative", "scale": {"domain": [0, 1]}, "axis": null}, "y": {"datum": 0.5, "type": "quantitative", "scale": {"domain": [0, 1]}, "axis": null}, "text": {"field": "tag"}}}
       ]},
      {"width": 318, "height": 148,
       "view": {"stroke": "#cccccc", "strokeWidth": 1.5, "fill": {"gradient": "linear", "x1": 0, "y1": 1, "x2": 0, "y2": 0, "stops": [{"offset": 0, "color": "#e2f0e9"}, {"offset": 0.34, "color": "#ffffff"}, {"offset": 1, "color": "#ffffff"}]}},
       "data": {"name": "p8"},
       "layer": [
         {"mark": {"type": "line", "interpolate": "linear", "strokeWidth": 4.8, "strokeCap": "butt"},
          "encoding": {
            "x": {"field": "flow", "type": "quantitative", "scale": {"domain": [0, 18000]}, "axis": {"title": "Volumetric Flow (CMH)", "titleX": 25, "values": [0, 2000, 4000, 6000, 8000, 10000, 12000, 14000, 16000, 18000], "format": "d"}},
            "y": {"field": "pressure", "type": "quantitative", "scale": {"domain": [0, 700]}, "axis": {"title": "Static Pressure(Pa)", "values": [0, 100, 200, 300, 400, 500, 600, 700], "format": "d"}},
            "color": {"field": "series", "type": "nominal", "scale": {"domain": ["Twin", "Single"], "range": ["#0f964f", "#d3df2b"]}, "legend": {"title": null}}}},
         {"data": {"values": [{}]}, "mark": {"type": "rect", "filled": false, "color": "#1e9b57", "strokeWidth": 1.2},
          "encoding": {"x": {"datum": 905, "type": "quantitative", "scale": {"domain": [0, 18000]}, "axis": {"title": "Volumetric Flow (CMH)", "titleX": 25, "values": [0, 2000, 4000, 6000, 8000, 10000, 12000, 14000, 16000, 18000], "format": "d"}}, "x2": {"datum": 9736}, "y": {"datum": -123, "type": "quantitative", "scale": {"domain": [0, 700]}, "axis": {"title": "Static Pressure(Pa)", "values": [0, 100, 200, 300, 400, 500, 600, 700], "format": "d"}}, "y2": {"datum": -250.7}}},
         {"data": {"values": [{}]}, "mark": {"type": "point", "shape": "M0,-1L0.667,0L0,1", "size": 729, "filled": true, "fill": "white", "stroke": "#1e9b57", "strokeWidth": 1.2, "opacity": 1},
          "encoding": {"x": {"datum": 9679, "type": "quantitative", "scale": {"domain": [0, 18000]}, "axis": {"title": "Volumetric Flow (CMH)", "titleX": 25, "values": [0, 2000, 4000, 6000, 8000, 10000, 12000, 14000, 16000, 18000], "format": "d"}}, "y": {"datum": -186.8, "type": "quantitative", "scale": {"domain": [0, 700]}, "axis": {"title": "Static Pressure(Pa)", "values": [0, 100, 200, 300, 400, 500, 600, 700], "format": "d"}}}},
         {"data": {"values": [{}]}, "mark": {"type": "rect", "filled": false, "color": "#1e9b57", "strokeWidth": 1.2},
          "encoding": {"x": {"datum": -3906, "type": "quantitative", "scale": {"domain": [0, 18000]}, "axis": {"title": "Volumetric Flow (CMH)", "titleX": 25, "values": [0, 2000, 4000, 6000, 8000, 10000, 12000, 14000, 16000, 18000], "format": "d"}}, "x2": {"datum": -2320}, "y": {"datum": 0, "type": "quantitative", "scale": {"domain": [0, 700]}, "axis": {"title": "Static Pressure(Pa)", "values": [0, 100, 200, 300, 400, 500, 600, 700], "format": "d"}}, "y2": {"datum": 586.5}}},
         {"data": {"values": [{}]}, "mark": {"type": "point", "shape": "M-1,0L0,-0.714L1,0", "size": 784, "filled": true, "fill": "white", "stroke": "#1e9b57", "strokeWidth": 1.2, "opacity": 1},
          "encoding": {"x": {"datum": -3114, "type": "quantitative", "scale": {"domain": [0, 18000]}, "axis": {"title": "Volumetric Flow (CMH)", "titleX": 25, "values": [0, 2000, 4000, 6000, 8000, 10000, 12000, 14000, 16000, 18000], "format": "d"}}, "y": {"datum": 581.8, "type": "quantitative", "scale": {"domain": [0, 700]}, "axis": {"title": "Static Pressure(Pa)", "values": [0, 100, 200, 300, 400, 500, 600, 700], "format": "d"}}}}
       ]}
    ], "spacing": 3, "bounds": "flush"},
    {"width": 318, "height": 180, "view": {"stroke": null},
     "layer": [
       {"data": {"values": [{"part": "seal"}]},
        "mark": {"type": "rect", "color": "#f3ea1d"},
        "encoding": {"x": {"datum": 2, "type": "quantitative", "scale": {"domain": [0, 318], "nice": false, "zero": false}, "axis": null}, "x2": {"datum": 122}, "y": {"datum": 3, "type": "quantitative", "scale": {"domain": [0, 180], "reverse": true, "nice": false, "zero": false}, "axis": null}, "y2": {"datum": 191}}},
       {"data": {"values": [{"sx": 2, "top": 3, "bot": 91}, {"sx": 24, "top": 3, "bot": 108}, {"sx": 122, "top": 3, "bot": 6}]},
        "mark": {"type": "area", "color": "#3f8fd2", "interpolate": "linear"},
        "encoding": {"x": {"field": "sx", "type": "quantitative"}, "y": {"field": "top", "type": "quantitative"}, "y2": {"field": "bot"}}},
       {"data": {"values": [{"sx": 2, "top": 130, "bot": 191}, {"sx": 24, "top": 108, "bot": 191}, {"sx": 122, "top": 126, "bot": 191}]},
        "mark": {"type": "area", "color": "#1f3a85", "interpolate": "linear"},
        "encoding": {"x": {"field": "sx", "type": "quantitative"}, "y": {"field": "top", "type": "quantitative"}, "y2": {"field": "bot"}}},
       {"data": {"values": [{"t": "amca"}]},
        "mark": {"type": "text", "align": "left", "baseline": "alphabetic", "fontSize": 22, "fontWeight": "bold", "color": "#1b2d7c", "font": "DejaVu Sans"},
        "encoding": {"x": {"datum": 7, "type": "quantitative"}, "y": {"datum": 27, "type": "quantitative"}, "text": {"field": "t"}}},
       {"data": {"values": [{"t": "WORLDWIDE\nCERTIFIED\nRATINGS"}]},
        "mark": {"type": "text", "align": "left", "baseline": "alphabetic", "fontSize": 10, "fontWeight": "bold", "lineHeight": 10.5, "lineBreak": "\n", "color": "#1b2d7c", "font": "DejaVu Sans"},
        "encoding": {"x": {"datum": 7, "type": "quantitative"}, "y": {"datum": 41, "type": "quantitative"}, "text": {"field": "t"}}},
       {"data": {"values": [{"t": "SOUND"}]},
        "mark": {"type": "text", "align": "right", "baseline": "alphabetic", "fontSize": 16, "fontWeight": "bold", "fontStyle": "italic", "color": "#1b2d7c", "font": "DejaVu Sans"},
        "encoding": {"x": {"datum": 119, "type": "quantitative"}, "y": {"datum": 90, "type": "quantitative"}, "text": {"field": "t"}}},
       {"data": {"values": [{"t": "AND"}]},
        "mark": {"type": "text", "align": "right", "baseline": "alphabetic", "fontSize": 5, "fontWeight": "bold", "color": "#1b2d7c", "font": "DejaVu Sans"},
        "encoding": {"x": {"datum": 112, "type": "quantitative"}, "y": {"datum": 97.5, "type": "quantitative"}, "text": {"field": "t"}}},
       {"data": {"values": [{"t": "AIR"}]},
        "mark": {"type": "text", "align": "right", "baseline": "alphabetic", "fontSize": 16, "fontWeight": "bold", "fontStyle": "italic", "color": "#1b2d7c", "font": "DejaVu Sans"},
        "encoding": {"x": {"datum": 118, "type": "quantitative"}, "y": {"datum": 111.5, "type": "quantitative"}, "text": {"field": "t"}}},
       {"data": {"values": [{"t": "PERFORMANCE"}]},
        "mark": {"type": "text", "align": "right", "baseline": "alphabetic", "fontSize": 7, "fontWeight": "bold", "color": "#1b2d7c", "font": "DejaVu Sans"},
        "encoding": {"x": {"datum": 120, "type": "quantitative"}, "y": {"datum": 123, "type": "quantitative"}, "text": {"field": "t"}}},
       {"data": {"values": [{"t": "AIR\nMOVEMENT\nAND CONTROL\nASSOCIATION\nINTERNATIONAL, INC."}]},
        "mark": {"type": "text", "align": "left", "baseline": "alphabetic", "fontSize": 6.5, "fontWeight": "bold", "lineHeight": 11, "lineBreak": "\n", "color": "white", "font": "DejaVu Sans"},
        "encoding": {"x": {"datum": 7, "type": "quantitative"}, "y": {"datum": 143, "type": "quantitative"}, "text": {"field": "t"}}},
       {"data": {"values": [{"t": "GTG Industries Sdn Bhd\ncertifies that the model: CFDT\n7/8 to CFDT 10/10 shown\nherein are licensed to bear the\nAMCA Seal. The ratings shown\nare based on tests and\nprocedures performed in\naccordance with AMCA\nPublication 211 and AMCA\nPublication 311 and comply with\nthe requirements of the AMCA\nCertified Ratings Program."}]},
        "mark": {"type": "text", "align": "left", "baseline": "alphabetic", "fontSize": 12.3, "lineHeight": 14.5, "lineBreak": "\n", "color": "#222222", "font": "Liberation Sans"},
        "encoding": {"x": {"datum": 137, "type": "quantitative"}, "y": {"datum": 17, "type": "quantitative"}, "text": {"field": "t"}}}
     ]}
  ],
  "config": {
    "font": "Liberation Sans",
    "view": {"stroke": "#cccccc", "strokeWidth": 1.5},
    "axis": {"grid": true, "gridColor": "#cccccc", "gridWidth": 1.5, "domain": false, "ticks": false, "tickSize": 0, "labelFont": "Liberation Sans", "labelFontSize": 11.5, "labelColor": "#555555", "labelFlush": false, "labelOverlap": false, "titleFont": "Liberation Sans", "titleFontSize": 13, "titleFontWeight": "normal", "titleColor": "#1e9b57"},
    "axisX": {"labelPadding": 7, "titleX": 8, "titleY": 40, "titleAlign": "left", "titleBaseline": "middle", "titleAngle": 0},
    "axisY": {"labelPadding": 8, "titleX": -54, "titleY": 141, "titleAlign": "left", "titleBaseline": "middle", "titleAngle": -90},
    "legend": {"orient": "none", "legendX": -1.5, "legendY": -98, "direction": "horizontal", "symbolType": "stroke", "symbolSize": 10816, "symbolStrokeWidth": 5, "labelFont": "Liberation Sans", "labelFontWeight": "bold", "labelFontSize": 18, "labelColor": "#6b6b6b", "labelOffset": 13, "columnPadding": 82, "padding": 0}
  }
}
